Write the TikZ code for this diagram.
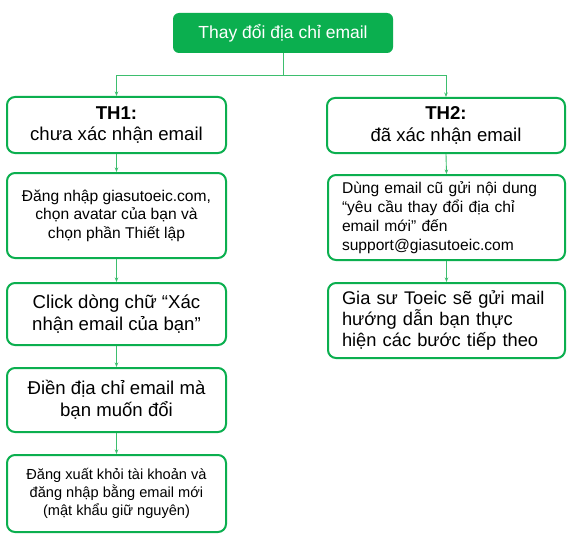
\documentclass[tikz,border=0pt]{standalone}
\usepackage{fontspec}
\setmainfont{Liberation Sans}
\usetikzlibrary{arrows.meta}
\definecolor{boxgreen}{HTML}{0BAF4F}
\definecolor{linkgreen}{HTML}{3DBE6E}
\tikzset{
  stepbox/.style={draw=boxgreen, line width=2pt, rounded corners=8pt, fill=white,
    text=black, inner sep=0pt, align=center},
  headbox/.style={fill=boxgreen, rounded corners=6pt, text=white, inner sep=0pt,
    align=center, minimum width=220pt, minimum height=40pt,
    font=\fontsize{17.5}{21}\selectfont},
  link/.style={draw=linkgreen, line width=0.9pt},
  arr/.style={link, -{Stealth[length=4.5pt, width=3.5pt]}},
  big/.style={font=\fontsize{18.6}{21.5}\selectfont},
  mid/.style={font=\fontsize{15.6}{18.6}\selectfont},
  small/.style={font=\fontsize{14.6}{17.6}\selectfont},
}
\begin{document}
\begin{tikzpicture}[x=1pt, y=-1pt]
  \useasboundingbox (0,0) rectangle (576,543);
  \fill[white] (0,0) rectangle (576,543);

  % title
  \node[headbox] (top) at (283,33) {Thay đổi địa chỉ email};

  % the two cases
  \node[stepbox, big, minimum width=219pt, minimum height=56pt] (th1) at (116.5,125)
    {\textbf{TH1:}\\chưa xác nhận email};
  \node[stepbox, big, minimum width=238pt, minimum height=55pt] (th2) at (446,125.5)
    {\textbf{TH2:}\\đã xác nhận email};

  % case 1 steps
  \node[stepbox, mid, minimum width=219pt, minimum height=85pt] (l1) at (116.5,215.5)
    {Đăng nhập giasutoeic.com,\\chọn avatar của bạn và\\chọn phần Thiết lập};
  \node[stepbox, big, minimum width=219pt, minimum height=62pt] (l2) at (116.5,314)
    {Click dòng chữ “Xác\\nhận email của bạn”};
  \node[stepbox, big, minimum width=219pt, minimum height=64pt] (l3) at (116.5,400)
    {Điền địa chỉ email mà\\bạn muốn đổi};
  \node[stepbox, small, minimum width=219pt, minimum height=77pt] (l4) at (116.5,493.5)
    {Đăng xuất khỏi tài khoản và\\đăng nhập bằng email mới\\(mật khẩu giữ nguyên)};

  % case 2 steps
  \node[stepbox, font=\fontsize{15.6}{19}\selectfont, align=left, text width=209pt,
        minimum width=237pt, minimum height=85pt] (r1) at (446.5,217.5)
    {Dùng email cũ gửi nội dung\\“yêu cầu thay đổi địa chỉ\\email mới” đến\\support@giasutoeic.com};
  \node[stepbox, font=\fontsize{18.3}{21}\selectfont, align=left, text width=209pt,
        minimum width=237pt, minimum height=75pt] (r2) at (446.5,320.5)
    {Gia sư Toeic sẽ gửi mail\\hướng dẫn bạn thực\\hiện các bước tiếp theo};

  % connectors
  \coordinate (split) at (283,75);
  \draw[link] (top.south) -- (split);
  \draw[arr] (split) -| (th1.north);
  \draw[arr] (split) -| (th2.north);
  \draw[arr] (th1.south) -- (l1.north);
  \draw[arr] (l1.south) -- (l2.north);
  \draw[arr] (l2.south) -- (l3.north);
  \draw[arr] (l3.south) -- (l4.north);
  \draw[arr] (th2.south) -- (r1.north);
  \draw[arr] (r1.south) -- (r2.north);
\end{tikzpicture}
\end{document}
